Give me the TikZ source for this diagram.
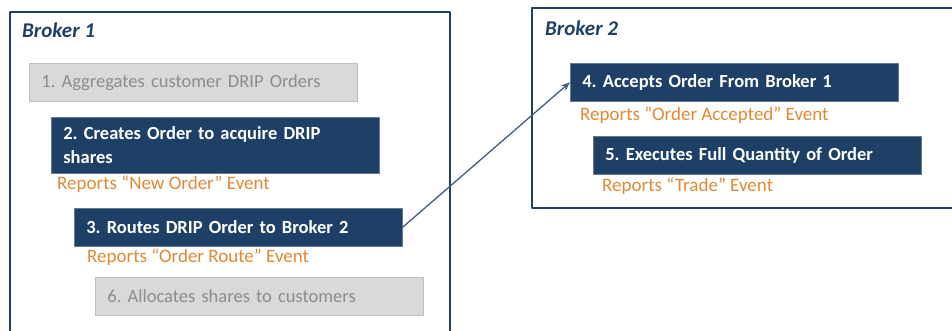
\documentclass[tikz,border=0pt]{standalone}
\usepackage{fontspec}
\setmainfont{Carlito}
\usetikzlibrary{arrows.meta}
\definecolor{navy}{RGB}{31,64,102}
\definecolor{boxgray}{RGB}{217,217,217}
\definecolor{edgegray}{RGB}{190,190,190}
\definecolor{txtgray}{RGB}{140,140,140}
\definecolor{rptorange}{RGB}{224,137,50}
\frenchspacing
\tikzset{
  frame/.style={draw=navy,line width=2.8pt},
  stepdark/.style={fill=navy,draw=navy!70,line width=0.6pt,anchor=north west,minimum width=328pt,minimum height=38pt,
    text width=304pt,inner xsep=12pt,align=left,text=white,font=\fontsize{18.5}{24}\selectfont\bfseries},
  stepgray/.style={fill=boxgray,draw=edgegray,line width=0.8pt,anchor=north west,minimum width=328pt,minimum height=38pt,
    text width=304pt,inner xsep=12pt,align=left,text=txtgray,font=\fontsize{18.5}{24}\selectfont},
  report/.style={anchor=west,inner sep=0pt,text=rptorange,font=\fontsize{19}{22}\selectfont},
  broker/.style={anchor=west,inner sep=0pt,text=navy,font=\fontsize{21}{24}\selectfont\bfseries\itshape}
}
\begin{document}
\begin{tikzpicture}[x=1pt,y=-1pt,line join=round]
  \useasboundingbox (0,0) rectangle (952,331);
  \clip (0,0) rectangle (952,331);
  % broker frames, both run past the page edge
  \draw[frame] (10,345)--(10,12)--(450,12)--(450,345);
  \draw[frame] (532,8) rectangle (960,208);
  \node[broker] (b1) at (22,30) {Broker 1};
  \node[broker] (b2) at (545,28) {Broker 2};
  % broker 1 steps
  \node[stepgray] (aggr) at (29,63) {1. Aggregates customer DRIP Orders};
  \node[stepdark,minimum height=56pt] (create) at (51,117) {2. Creates Order to acquire DRIP\\shares};
  \node[report] (newrpt) at (57,184) {Reports “New Order” Event};
  \node[stepdark] (route) at (74,208) {3. Routes DRIP Order to Broker 2};
  \node[report] (routerpt) at (87,257) {Reports “Order Route” Event};
  \node[stepgray] (alloc) at (95,277) {6. Allocates shares to customers};
  % broker 2 steps
  \node[stepdark] (accept) at (570,63) {4. Accepts Order From Broker 1};
  \node[report] (acceptrpt) at (580,115) {Reports “Order Accepted” Event};
  \node[stepdark] (exec) at (593,136) {5. Executes Full Quantity of Order};
  \node[report] (traderpt) at (602,186) {Reports “Trade” Event};
  % order routed across
  \draw[navy!85,line width=1.3pt,-{Stealth[length=9pt,width=7pt]}] (route.east) -- (accept.west);
\end{tikzpicture}
\end{document}
